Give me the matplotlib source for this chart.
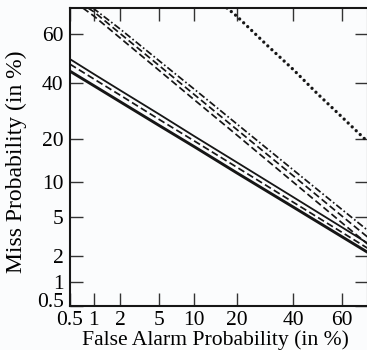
import numpy as np
import matplotlib
matplotlib.use("Agg")
import matplotlib.pyplot as plt
import matplotlib.transforms as mtransforms
from matplotlib.ticker import FixedLocator, FixedFormatter, NullLocator
from statistics import NormalDist

# ---- data (percent) ----
fa_grid = [0.5, 1, 2, 5, 10, 20, 40, 60, 70]

solid_thin = [49.7, 43.5, 37.0, 28.0, 20.9, 14.0, 7.45, 3.95, 2.71]
dashed_low = [47.6, 41.5, 35.1, 26.2, 19.5, 12.9, 6.73, 3.52, 2.40]
solid_thick = [44.7, 38.8, 32.6, 24.2, 17.9, 11.7, 6.1, 3.18, 2.17]

fa_up1 = [0.73, 1, 2, 5, 10, 20, 40, 60, 70]
dashed_up1 = [70.0, 67.0, 58.4, 44.9, 33.3, 21.3, 9.9, 4.36, 2.65]
fa_up2 = [0.845, 1, 2, 5, 10, 20, 40, 60, 70]
dashed_up2 = [70.0, 68.6, 60.2, 46.9, 35.3, 23.0, 11.1, 5.05, 3.13]
fa_up3 = [0.97, 2, 5, 10, 20, 40, 60, 70]
dashdot_up = [70.0, 62.0, 48.9, 37.4, 24.8, 12.3, 5.8, 3.66]

fa_dot = [17.3, 20, 30, 40, 50, 60, 70]
dotted = [70.0, 67.0, 55.4, 45.4, 35.6, 27.1, 19.2]

tick_vals = [0.5, 1, 2, 5, 10, 20, 40, 60]
tick_labels = ["0.5", "1", "2", "5", "10", "20", "40", "60"]

nd = NormalDist()
_ppf = np.vectorize(lambda p: nd.inv_cdf(min(max(p, 1e-9), 1 - 1e-9)),
                    otypes=[float])
_cdf = np.vectorize(nd.cdf, otypes=[float])


def fwd(p):
    return _ppf(np.asarray(p, dtype=float) / 100.0)


def inv(z):
    return _cdf(np.asarray(z, dtype=float)) * 100.0


plt.rcParams['font.family'] = ['Liberation Serif', 'DejaVu Serif']
plt.rcParams['lines.scale_dashes'] = False

fig = plt.figure(figsize=(3.67, 3.5), dpi=100)
bg = '#fbfcfd'
fig.patch.set_facecolor(bg)
ax = fig.add_axes([70 / 367, 44 / 350, 298 / 367, 298 / 350])
ax.set_facecolor(bg)
ax.set_xscale('function', functions=(fwd, inv))
ax.set_yscale('function', functions=(fwd, inv))

c = '#161616'
ax.plot(fa_grid, solid_thin, color=c, lw=1.3)
ax.plot(fa_grid, dashed_low, color=c, lw=1.25, linestyle=(0, (5, 2.5)))
ax.plot(fa_grid, solid_thick, color=c, lw=2.1)
ax.plot(fa_up1, dashed_up1, color=c, lw=1.25, linestyle=(0, (5, 2.5)))
ax.plot(fa_up2, dashed_up2, color=c, lw=1.25, linestyle=(0, (5, 2.5)))
ax.plot(fa_up3, dashdot_up, color=c, lw=1.25, linestyle=(0, (5, 1.8, 1.2, 1.8)))
ax.plot(fa_dot, dotted, color=c, lw=2.4, linestyle=(0, (0.01, 4.0)),
        dash_capstyle='round')

ax.set_xlim(0.5, 70)
ax.set_ylim(0.5, 70)
for axis in (ax.xaxis, ax.yaxis):
    axis.set_major_locator(FixedLocator(tick_vals))
    axis.set_major_formatter(FixedFormatter(tick_labels))
    axis.set_minor_locator(NullLocator())

ax.tick_params(which='major', direction='in', top=True, right=True,
               length=9.5, width=1.0, labelsize=15.5, color='#333333')
ax.tick_params(axis='x', pad=3.5)
ax.tick_params(axis='y', pad=4.5)
for s in ax.spines.values():
    s.set_linewidth(1.5)
    s.set_color(c)

ax.set_xlabel("False Alarm Probability (in %)", fontsize=15.6)
ax.set_ylabel("Miss Probability (in %)", fontsize=17)
ax.xaxis.set_label_coords(0.487, -0.08)
ax.yaxis.set_label_coords(-0.144, 0.483)

# nudge the lowest y tick label up a little, as in the reference
fig.canvas.draw()
lab0 = ax.yaxis.get_majorticklabels()[0]
lab0.set_transform(lab0.get_transform() +
                   mtransforms.ScaledTranslation(0, 4 / 72, fig.dpi_scale_trans))

fig.savefig("out.png", dpi=100, facecolor=bg)
